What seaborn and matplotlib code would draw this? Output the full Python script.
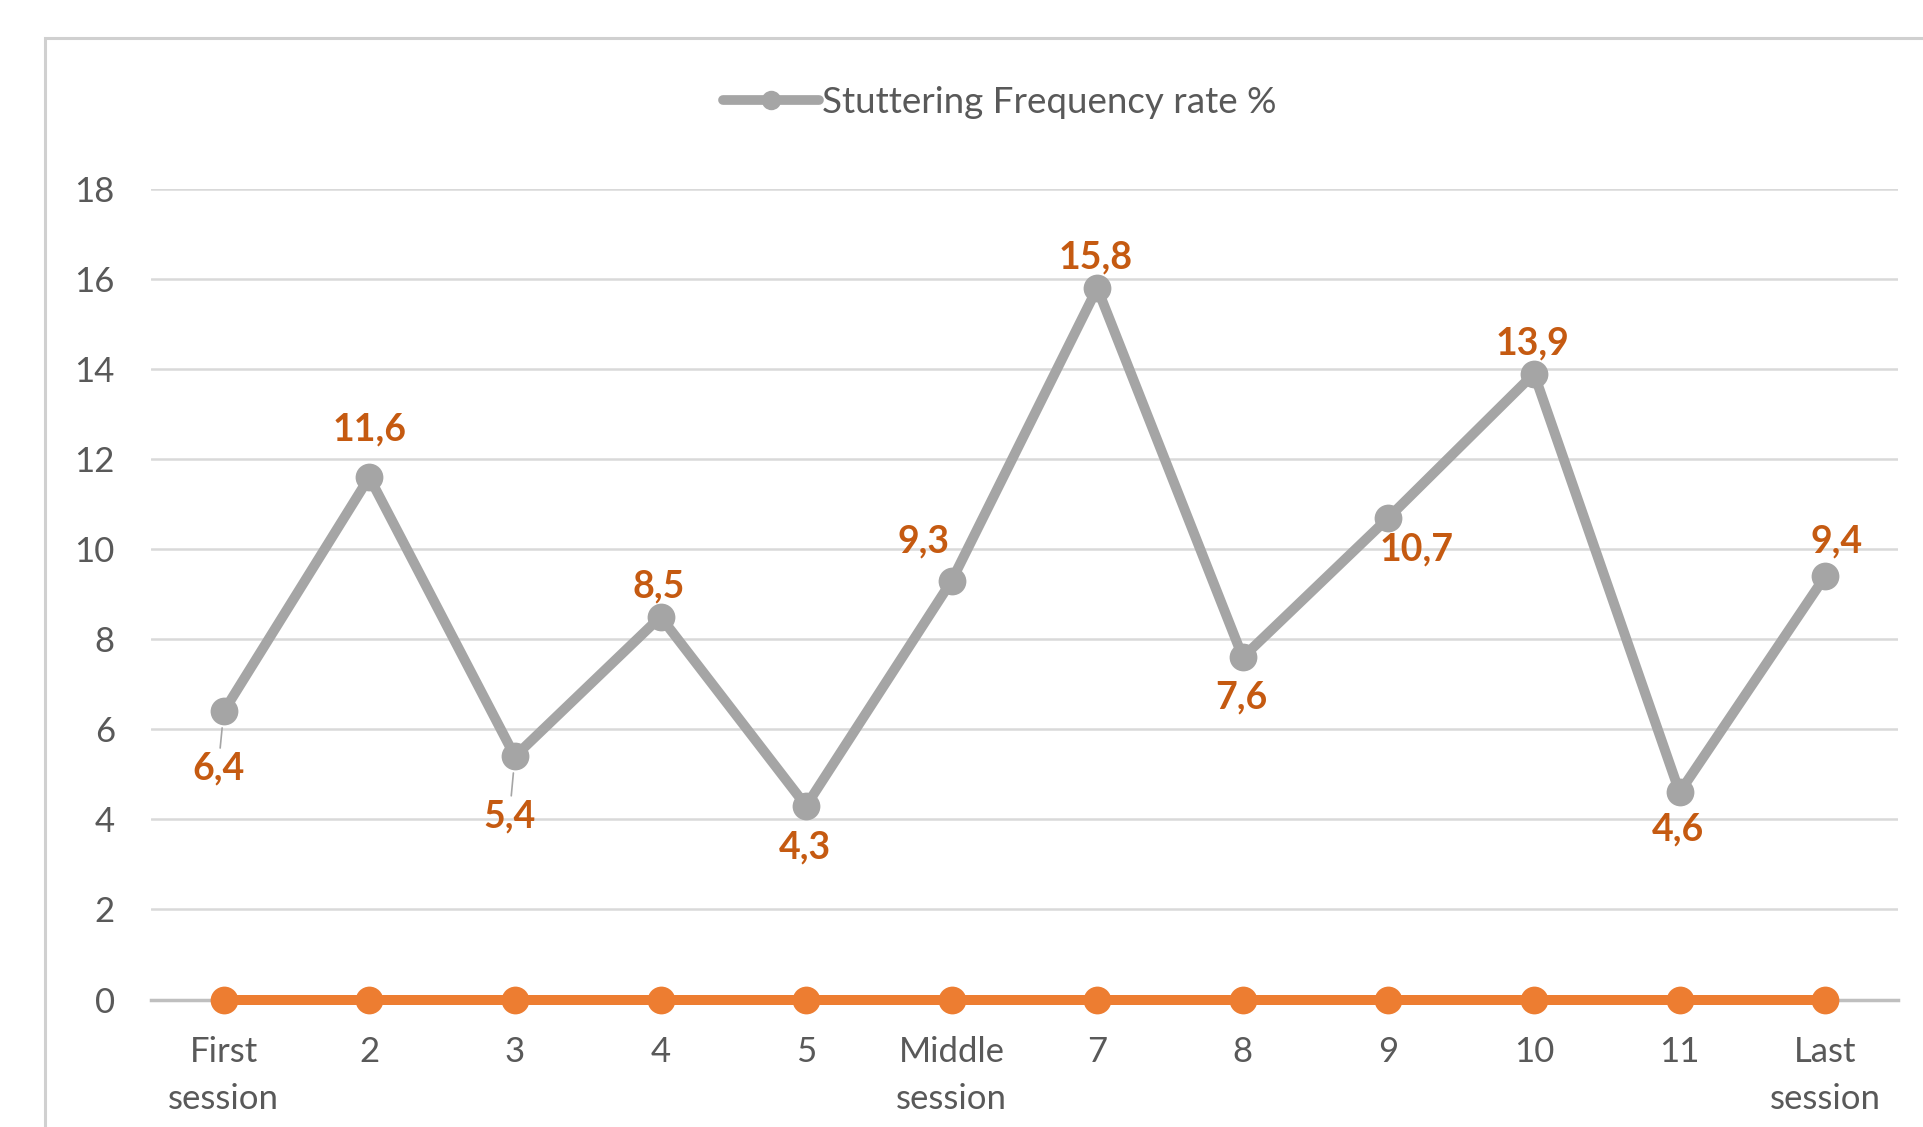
import matplotlib
matplotlib.use("Agg")
import matplotlib.pyplot as plt
from matplotlib.lines import Line2D
from matplotlib.patches import Rectangle
import seaborn as sns
import pandas as pd

# Session labels and measured stuttering frequency (%)
sessions = ["First\nsession", "2", "3", "4", "5", "Middle\nsession",
            "7", "8", "9", "10", "11", "Last\nsession"]
rates = [6.4, 11.6, 5.4, 8.5, 4.3, 9.3, 15.8, 7.6, 10.7, 13.9, 4.6, 9.4]
baseline = [0, 0, 0, 0, 0, 0, 0, 0, 0, 0, 0, 0]
series_name = "Stuttering Frequency rate %"
y_ticks = [0, 2, 4, 6, 8, 10, 12, 14, 16, 18]

# Label placement (offset in points from each marker)
label_offsets = [(-4, -41), (0, 34), (-4, -43), (-1, 22), (-1, -30), (-20, 28),
                 (-1, 22), (-1, -29), (20, -23), (-1, 22), (-1, -27), (8, 25)]
leader = [True, False, True, False, False, False,
          False, False, False, False, False, False]

df = pd.DataFrame({"session": sessions, "rate": rates, "baseline": baseline})

sns.set_theme(style="white")
plt.rcParams["font.family"] = ["Lato", "DejaVu Sans"]

GRAY = "#a5a5a5"
ORANGE = "#ed7d31"
LABEL = "#c55a11"
TEXT = "#595959"
GRID = "#d9d9d9"

fig = plt.figure(figsize=(19.23, 11.27), dpi=100)
ax = fig.add_axes([0.0785, 0.1131, 0.9085, 0.7192])

# outer chart frame
fig.patches.append(Rectangle((0.0234, -0.05), 1.2, 1.0163, transform=fig.transFigure,
                             fill=False, edgecolor="#d0d0d0", linewidth=2.2, zorder=0))

sns.lineplot(data=df, x="session", y="rate", sort=False, ax=ax, color=GRAY,
             linewidth=7.2, marker="o", markersize=20, markeredgewidth=0,
             markeredgecolor=GRAY, zorder=4, clip_on=False)
sns.lineplot(data=df, x="session", y="baseline", sort=False, ax=ax, color=ORANGE,
             linewidth=7.2, marker="o", markersize=20, markeredgewidth=0,
             zorder=5, clip_on=False)

ax.set_xlim(-0.5, len(sessions) - 0.5)
ax.set_ylim(0, 18)
ax.set_yticks(y_ticks)
ax.set_xticks(range(len(sessions)))
ax.set_xticklabels(sessions, linespacing=1.6)
ax.set_xlabel("")
ax.set_ylabel("")

ax.grid(axis="y", color=GRID, linewidth=1.8, zorder=0)
ax.grid(axis="x", visible=False)
for side in ["top", "right", "left"]:
    ax.spines[side].set_visible(False)
ax.spines["bottom"].set_color("#bfbfbf")
ax.spines["bottom"].set_linewidth(2.5)
ax.spines["bottom"].set_zorder(1)

ax.tick_params(axis="y", length=0, pad=26, labelsize=25, labelcolor=TEXT)
ax.tick_params(axis="x", length=0, pad=26, labelsize=25, labelcolor=TEXT)

for i, (v, (dx, dy), ld) in enumerate(zip(rates, label_offsets, leader)):
    txt = f"{v:.1f}".replace(".", ",")
    kw = {}
    if ld:
        kw["arrowprops"] = dict(arrowstyle="-", color=GRAY, lw=1.2,
                                shrinkA=0, shrinkB=12)
    ax.annotate(txt, xy=(i, v), xytext=(dx, dy), textcoords="offset points",
                ha="center", va="center", fontsize=27, fontweight="bold",
                color=LABEL, zorder=6, annotation_clip=False, **kw)

handle = Line2D([], [], color=GRAY, linewidth=7, marker="o", markersize=14,
                markeredgewidth=0)
if ax.get_legend() is not None:
    ax.get_legend().remove()
fig.legend([handle], [series_name], loc="center", bbox_to_anchor=(0.52, 0.909),
           frameon=False, fontsize=26.5, labelcolor=TEXT, handlelength=2.6,
           handletextpad=0.1)

fig.savefig("out.png", dpi=100, facecolor="white")
